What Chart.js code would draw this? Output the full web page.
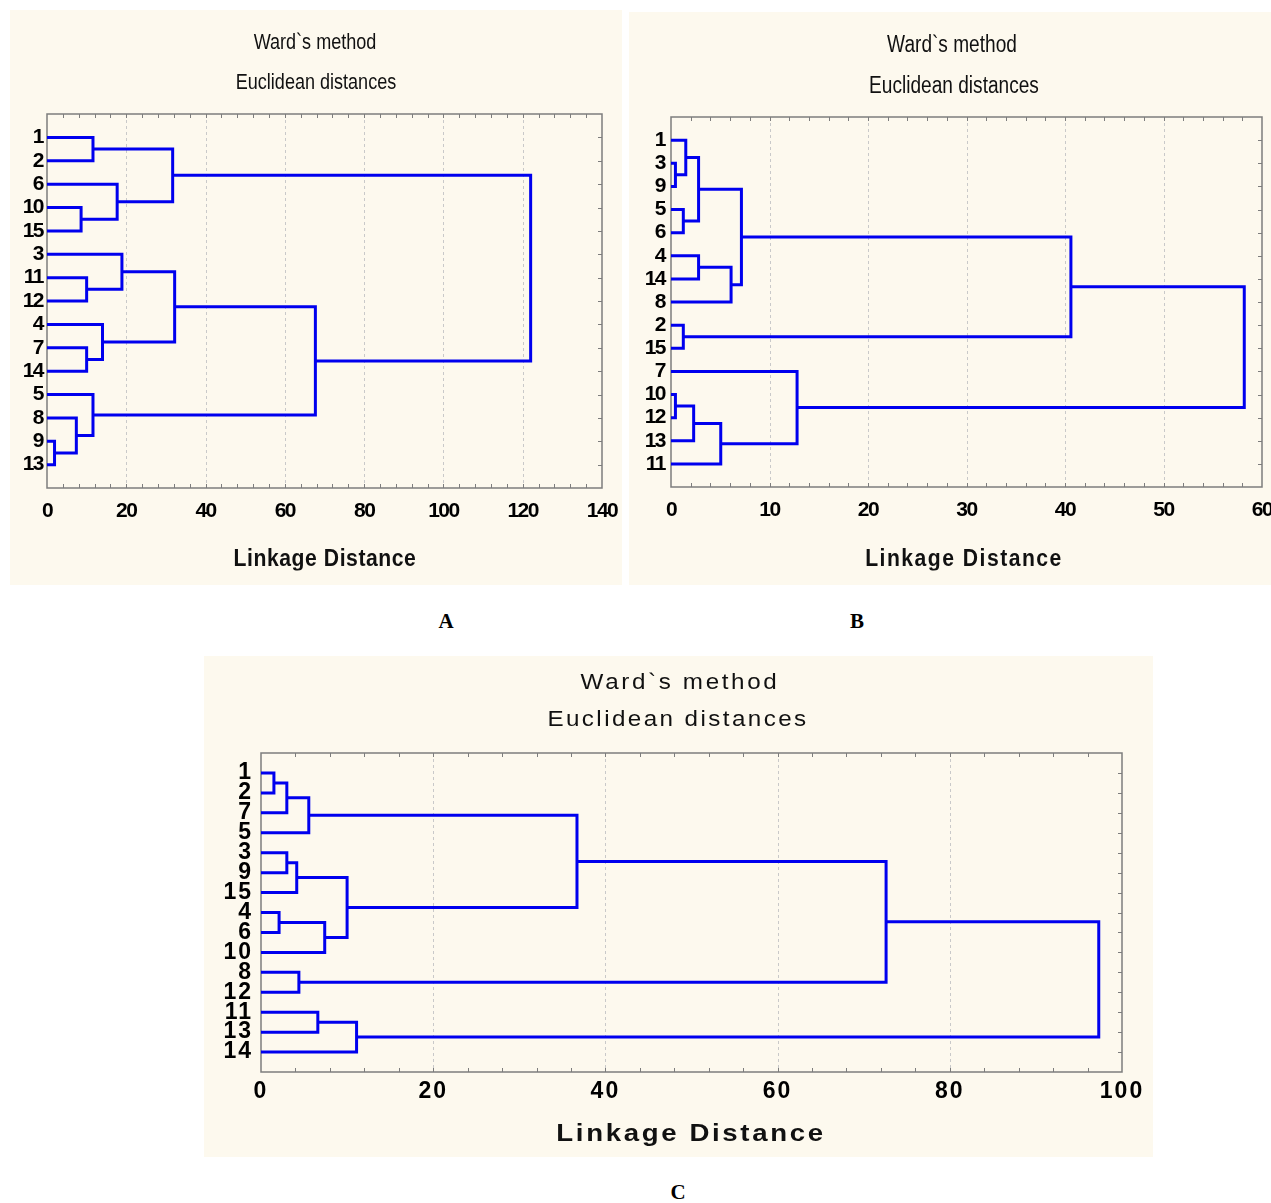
<!DOCTYPE html>
<html>
<head>
<meta charset="utf-8">
<script src="https://cdn.jsdelivr.net/npm/chart.js@4.4.1/dist/chart.umd.min.js"></script>
<style>
  html, body { margin: 0; padding: 0; background: #fff; }
  body { width: 1271px; height: 1203px; position: relative; overflow: hidden;
         font-family: 'Liberation Sans', Arial, sans-serif; }
  .panel { position: absolute; background: #fdf9ee; }
  .panel canvas { position: absolute; left: 0; top: 0; }
  .txt { position: absolute; white-space: nowrap; color: #111; line-height: 1; }
  .cap { position: absolute; line-height: 1; font: bold 21px 'Liberation Serif', 'Times New Roman', serif;
         transform: translate(-50%, -50%); }
</style>
</head>
<body>

<div class="panel" style="left:10px; top:10px; width:612px; height:575px;">
  <canvas id="chartA" width="612" height="575"></canvas>
</div>
<div class="panel" style="left:629px; top:12px; width:642px; height:573px;">
  <canvas id="chartB" width="642" height="573"></canvas>
</div>
<div class="panel" style="left:204px; top:656px; width:949px; height:501px;">
  <canvas id="chartC" width="949" height="501"></canvas>
</div>

<!-- titles -->
<div class="txt" style="left:315px; top:42px; font-size:22px; transform:translate(-50%,-50%) scaleX(.82);">Ward`s method</div>
<div class="txt" style="left:316px; top:82px; font-size:22px; transform:translate(-50%,-50%) scaleX(.82);">Euclidean distances</div>
<div class="txt" style="left:952px; top:44px; font-size:23px; transform:translate(-50%,-50%) scaleX(.83);">Ward`s method</div>
<div class="txt" style="left:954px; top:85px; font-size:23px; transform:translate(-50%,-50%) scaleX(.83);">Euclidean distances</div>
<div class="txt" style="left:680px; top:682px; font-size:22px; letter-spacing:2.4px; transform:translate(-50%,-50%) scaleX(1.1);">Ward`s method</div>
<div class="txt" style="left:678px; top:719px; font-size:22px; letter-spacing:2.2px; transform:translate(-50%,-50%) scaleX(1.1);">Euclidean distances</div>

<!-- axis titles -->
<div class="txt" style="left:325px; top:558px; font-size:23px; font-weight:bold; letter-spacing:.6px; transform:translate(-50%,-50%) scaleX(.92);">Linkage Distance</div>
<div class="txt" style="left:964px; top:558px; font-size:23px; font-weight:bold; letter-spacing:1.6px; transform:translate(-50%,-50%) scaleX(.92);">Linkage Distance</div>
<div class="txt" style="left:691px; top:1133px; font-size:24px; font-weight:bold; letter-spacing:2.3px; transform:translate(-50%,-50%) scaleX(1.15);">Linkage Distance</div>

<div class="cap" style="left:446px; top:621px;">A</div>
<div class="cap" style="left:857px; top:621px;">B</div>
<div class="cap" style="left:678px; top:1192px;">C</div>

<script>
// Leaves listed top to bottom. Merge pairs use leaf index (0..14) or 15 + merge index.
const leavesA = ['1', '2', '6', '10', '15', '3', '11', '12', '4', '7', '14', '5', '8', '9', '13'];
const pairsA = [[0, 1], [3, 4], [2, 16], [15, 17], [6, 7], [5, 19], [9, 10], [8, 21], [20, 22], [13, 14], [12, 24], [11, 25], [23, 26], [18, 27]];
const heightsA = [11.6, 8.6, 17.7, 31.7, 10.0, 18.9, 10.0, 14.0, 32.2, 1.9, 7.4, 11.6, 67.7, 122.0];

const leavesB = ['1', '3', '9', '5', '6', '4', '14', '8', '2', '15', '7', '10', '12', '13', '11'];
const pairsB = [[1, 2], [0, 15], [3, 4], [16, 17], [5, 6], [19, 7], [18, 20], [8, 9], [21, 22], [11, 12], [24, 13], [25, 14], [10, 26], [23, 27]];
const heightsB = [0.45, 1.5, 1.25, 2.8, 2.8, 6.1, 7.15, 1.25, 40.6, 0.45, 2.3, 5.05, 12.8, 58.2];

const leavesC = ['1', '2', '7', '5', '3', '9', '15', '4', '6', '10', '8', '12', '11', '13', '14'];
const pairsC = [[0, 1], [15, 2], [16, 3], [4, 5], [18, 6], [7, 8], [20, 9], [19, 21], [17, 22], [10, 11], [23, 24], [12, 13], [26, 14], [25, 27]];
const heightsC = [1.5, 3.0, 5.55, 3.0, 4.15, 2.1, 7.4, 10.0, 36.7, 4.4, 72.6, 6.6, 11.1, 97.3];

const BLUE = '#0000ee';
const FRAME = '#7d7d7d';

// one U-shaped link per merge, in data units
function linkSegments(leaves, pairs, heights) {
  const pos = leaves.map((_, i) => i + 1);
  const hgt = leaves.map(() => 0);
  return pairs.map(([a, b], k) => {
    const h = heights[k];
    const seg = [
      { x: hgt[a], y: pos[a] }, { x: h, y: pos[a] },
      { x: h, y: pos[b] }, { x: hgt[b], y: pos[b] },
    ];
    pos.push((pos[a] + pos[b]) / 2);
    hgt.push(h);
    return seg;
  });
}

// box, dashed major grid, inward ticks
const framePlugin = {
  id: 'frame',
  beforeDatasetsDraw(chart, args, opts) {
    const { ctx, chartArea: a, scales: { x, y } } = chart;
    ctx.save();
    ctx.lineWidth = 1;
    ctx.strokeStyle = '#c9c9c9';
    ctx.setLineDash([3, 3]);
    for (let v = opts.major; v < x.max; v += opts.major) {
      const px = Math.round(x.getPixelForValue(v)) + 0.5;
      ctx.beginPath(); ctx.moveTo(px, a.top); ctx.lineTo(px, a.bottom); ctx.stroke();
    }
    ctx.setLineDash([]);
    ctx.strokeStyle = FRAME;
    ctx.beginPath();
    x.ticks.forEach(t => {
      if (t.value <= x.min || t.value >= x.max) return;
      const px = Math.round(x.getPixelForValue(t.value)) + 0.5;
      ctx.moveTo(px, a.top); ctx.lineTo(px, a.top + 4);
      ctx.moveTo(px, a.bottom); ctx.lineTo(px, a.bottom - 4);
    });
    for (let i = 1; i < y.max; i++) {
      const py = Math.round(y.getPixelForValue(i)) + 0.5;
      ctx.moveTo(a.right, py); ctx.lineTo(a.right - 4, py);
    }
    ctx.stroke();
    ctx.lineWidth = 1.5;
    ctx.strokeRect(a.left, a.top, a.right - a.left, a.bottom - a.top);
    ctx.restore();
  },
};

// canvas letter spacing for the tick labels
const spacingPlugin = {
  id: 'spacing',
  beforeLayout(chart, args, opts) { chart.ctx.letterSpacing = opts.value; },
  beforeDraw(chart, args, opts) { chart.ctx.letterSpacing = opts.value; },
};

function dendrogram(id, leaves, pairs, heights, o) {
  const segments = linkSegments(leaves, pairs, heights);
  return new Chart(document.getElementById(id), {
    type: 'line',
    data: {
      datasets: segments.map(seg => ({
        data: seg,
        borderColor: BLUE,
        borderWidth: o.lineWidth,
        borderJoinStyle: 'miter',
        pointRadius: 0,
        tension: 0,
        fill: false,
        clip: false,
      })),
    },
    options: {
      responsive: false,
      animation: false,
      events: [],
      layout: { padding: o.padding },
      plugins: {
        legend: { display: false },
        tooltip: { enabled: false },
        frame: { major: o.major },
        spacing: { value: o.spacing },
      },
      scales: {
        x: {
          type: 'linear', min: 0, max: o.xMax,
          grid: { display: false, drawTicks: false },
          border: { display: false },
          ticks: {
            stepSize: o.minor, autoSkip: false, maxRotation: 0, maxTicksLimit: 200,
            padding: o.xPad, color: '#000', font: o.font,
            callback: v => (v % o.major === 0 ? String(v) : ''),
          },
          afterFit: s => { s.height = 40; s.paddingLeft = 0; s.paddingRight = 0; },
        },
        y: {
          type: 'linear', min: 0, max: leaves.length + 1, reverse: true,
          grid: { display: false, drawTicks: false },
          border: { display: false },
          ticks: {
            stepSize: 1, autoSkip: false, maxTicksLimit: 200,
            padding: o.yPad, color: '#000', font: o.font,
            callback: v => leaves[v - 1] || '',
          },
          afterFit: s => { s.width = o.yWidth; s.paddingTop = 0; s.paddingBottom = 0; },
        },
      },
    },
    plugins: [framePlugin, spacingPlugin],
  });
}

Chart.defaults.font.family = "'Liberation Sans', Arial, sans-serif";

dendrogram('chartA', leavesA, pairsA, heightsA, {
  xMax: 140, major: 20, minor: 4, lineWidth: 3,
  padding: { left: 0, top: 104, right: 20, bottom: 57 },
  yWidth: 37, yPad: 4, xPad: 11, spacing: '-1.5px',
  font: { size: 21, weight: 'bold' },
});

dendrogram('chartB', leavesB, pairsB, heightsB, {
  xMax: 60, major: 10, minor: 2, lineWidth: 3,
  padding: { left: 0, top: 105, right: 9, bottom: 58 },
  yWidth: 42, yPad: 6, xPad: 11, spacing: '-1.5px',
  font: { size: 21, weight: 'bold' },
});

dendrogram('chartC', leavesC, pairsC, heightsC, {
  xMax: 100, major: 20, minor: 4, lineWidth: 3,
  padding: { left: 0, top: 97, right: 31, bottom: 45 },
  yWidth: 57, yPad: 8, xPad: 6, spacing: '2px',
  font: { size: 23, weight: 'bold' },
});
</script>
</body>
</html>
